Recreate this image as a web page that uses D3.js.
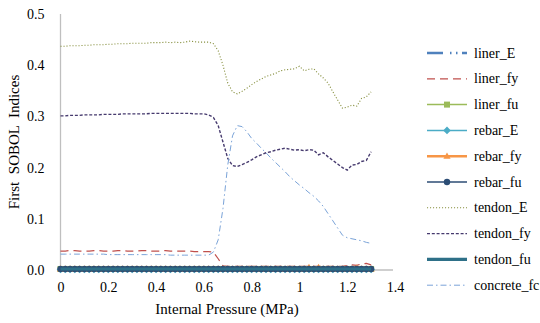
<!DOCTYPE html>
<html><head><meta charset="utf-8">
<script src="https://cdn.jsdelivr.net/npm/d3@7"></script>
<style>body{margin:0;background:#fff}svg{display:block}text{font-family:"Liberation Serif","Times New Roman",serif;fill:#000}</style>
</head><body><svg id="c" width="540" height="323"></svg>
<script>
const pressure = [0,0.02,0.04,0.06,0.08,0.10,0.12,0.14,0.16,0.18,0.20,0.22,0.24,0.26,0.28,0.30,0.32,0.34,0.36,0.38,0.40,0.42,0.44,0.46,0.48,0.50,0.52,0.54,0.56,0.58,0.60,0.62,0.64,0.66,0.68,0.70,0.72,0.74,0.76,0.78,0.80,0.82,0.84,0.86,0.88,0.90,0.92,0.94,0.96,0.98,1.00,1.02,1.04,1.06,1.08,1.10,1.12,1.14,1.16,1.18,1.20,1.22,1.24,1.26,1.28,1.30];
const seriesNames = ["liner_E","liner_fy","liner_fu","rebar_E","rebar_fy","rebar_fu","tendon_E","tendon_fy","tendon_fu","concrete_fc"];
const liner_E = [0.001,0.001,0.001,0.001,0.001,0.001,0.001,0.001,0.001,0.001,0.001,0.001,0.001,0.001,0.001,0.001,0.001,0.001,0.001,0.001,0.001,0.001,0.001,0.001,0.001,0.001,0.001,0.001,0.001,0.001,0.001,0.001,0.001,0.001,0.001,0.001,0.001,0.001,0.001,0.001,0.001,0.001,0.001,0.001,0.001,0.001,0.001,0.001,0.001,0.001,0.001,0.001,0.001,0.001,0.001,0.001,0.001,0.001,0.001,0.001,0.001,0.001,0.001,0.001,0.001,0.001];
const liner_fy = [0.037,0.037,0.038,0.038,0.037,0.037,0.037,0.038,0.038,0.037,0.037,0.037,0.038,0.038,0.037,0.037,0.037,0.038,0.038,0.037,0.037,0.037,0.038,0.037,0.037,0.037,0.037,0.037,0.036,0.036,0.036,0.036,0.035,0.022,0.008,0.007,0.007,0.007,0.007,0.007,0.007,0.007,0.007,0.007,0.007,0.007,0.007,0.007,0.007,0.007,0.007,0.007,0.007,0.007,0.007,0.007,0.007,0.007,0.007,0.007,0.009,0.010,0.009,0.012,0.013,0.010];
const liner_fu = [0.002,0.002,0.002,0.002,0.002,0.002,0.002,0.002,0.002,0.002,0.002,0.002,0.002,0.002,0.002,0.002,0.002,0.002,0.002,0.002,0.002,0.002,0.002,0.002,0.002,0.002,0.002,0.002,0.002,0.002,0.002,0.002,0.002,0.002,0.002,0.002,0.002,0.002,0.002,0.002,0.002,0.002,0.002,0.002,0.002,0.002,0.002,0.002,0.002,0.002,0.002,0.002,0.002,0.002,0.002,0.002,0.002,0.002,0.002,0.002,0.002,0.002,0.002,0.002,0.002,0.002];
const rebar_E = [0.001,0.001,0.001,0.001,0.001,0.001,0.001,0.001,0.001,0.001,0.001,0.001,0.001,0.001,0.001,0.001,0.001,0.001,0.001,0.001,0.001,0.001,0.001,0.001,0.001,0.001,0.001,0.001,0.001,0.001,0.001,0.001,0.001,0.001,0.001,0.001,0.001,0.001,0.001,0.001,0.001,0.001,0.001,0.001,0.001,0.001,0.001,0.001,0.001,0.001,0.001,0.001,0.001,0.001,0.001,0.001,0.001,0.001,0.001,0.001,0.001,0.001,0.001,0.001,0.001,0.001];
const rebar_fy = [0.002,0.002,0.002,0.002,0.002,0.002,0.002,0.002,0.002,0.002,0.002,0.002,0.002,0.002,0.002,0.002,0.002,0.002,0.002,0.002,0.002,0.002,0.002,0.002,0.002,0.002,0.002,0.002,0.002,0.002,0.002,0.002,0.002,0.002,0.002,0.002,0.002,0.002,0.002,0.002,0.002,0.002,0.002,0.002,0.002,0.002,0.002,0.002,0.002,0.002,0.002,0.002,0.005,0.002,0.005,0.002,0.002,0.002,0.002,0.002,0.002,0.002,0.004,0.002,0.002,0.002];
const rebar_fu = [0.002,0.002,0.002,0.002,0.002,0.002,0.002,0.002,0.002,0.002,0.002,0.002,0.002,0.002,0.002,0.002,0.002,0.002,0.002,0.002,0.002,0.002,0.002,0.002,0.002,0.002,0.002,0.002,0.002,0.002,0.002,0.002,0.002,0.002,0.002,0.002,0.002,0.002,0.002,0.002,0.002,0.002,0.002,0.002,0.002,0.002,0.002,0.002,0.002,0.002,0.002,0.002,0.002,0.002,0.002,0.002,0.002,0.002,0.002,0.002,0.002,0.002,0.002,0.002,0.002,0.002];
const tendon_E = [0.437,0.437,0.438,0.438,0.438,0.439,0.439,0.440,0.440,0.440,0.441,0.441,0.442,0.442,0.442,0.443,0.443,0.443,0.443,0.444,0.444,0.444,0.445,0.444,0.445,0.444,0.445,0.447,0.446,0.445,0.445,0.445,0.442,0.428,0.400,0.365,0.348,0.344,0.349,0.355,0.362,0.368,0.373,0.378,0.381,0.384,0.389,0.391,0.392,0.393,0.398,0.389,0.392,0.393,0.383,0.375,0.365,0.348,0.332,0.316,0.318,0.322,0.320,0.335,0.338,0.348];
const tendon_fy = [0.301,0.301,0.302,0.302,0.302,0.303,0.303,0.303,0.303,0.304,0.304,0.304,0.304,0.305,0.305,0.305,0.305,0.305,0.305,0.306,0.306,0.306,0.306,0.306,0.306,0.306,0.306,0.306,0.305,0.305,0.305,0.303,0.298,0.282,0.250,0.218,0.204,0.202,0.206,0.210,0.215,0.221,0.225,0.229,0.231,0.234,0.236,0.238,0.236,0.234,0.235,0.233,0.235,0.234,0.225,0.229,0.221,0.214,0.207,0.200,0.195,0.205,0.206,0.212,0.214,0.231];
const tendon_fu = [0.002,0.002,0.002,0.002,0.002,0.002,0.002,0.002,0.002,0.002,0.002,0.002,0.002,0.002,0.002,0.002,0.002,0.002,0.002,0.002,0.002,0.002,0.002,0.002,0.002,0.002,0.002,0.002,0.002,0.002,0.002,0.002,0.002,0.002,0.002,0.002,0.002,0.002,0.002,0.002,0.002,0.002,0.002,0.002,0.002,0.002,0.002,0.002,0.002,0.002,0.002,0.002,0.002,0.002,0.002,0.002,0.002,0.002,0.002,0.002,0.002,0.002,0.002,0.002,0.002,0.002];
const concrete_fc = [0.031,0.031,0.031,0.031,0.031,0.031,0.031,0.031,0.031,0.031,0.030,0.030,0.030,0.030,0.030,0.030,0.030,0.030,0.030,0.030,0.030,0.030,0.030,0.029,0.029,0.029,0.029,0.029,0.029,0.029,0.029,0.029,0.035,0.059,0.120,0.205,0.262,0.282,0.280,0.270,0.257,0.248,0.238,0.229,0.219,0.210,0.201,0.192,0.182,0.174,0.166,0.159,0.151,0.144,0.135,0.124,0.110,0.096,0.082,0.068,0.063,0.061,0.059,0.057,0.054,0.052];
const xTicks = [0,0.2,0.4,0.6,0.8,1,1.2,1.4];
const yTicks = [0,0.1,0.2,0.3,0.4,0.5];
const xTitle = "Internal Pressure (MPa)";
const yTitle = "First  SOBOL  Indices";

const values = {liner_E,liner_fy,liner_fu,rebar_E,rebar_fy,rebar_fu,tendon_E,tendon_fy,tendon_fu,concrete_fc};
const styles = {
  liner_E:{c:"#4F81BD",w:2.5,d:"16,7,1.5,4.5,1.5,4.5"},
  liner_fy:{c:"#C0504D",w:1.2,d:"8,5"},
  liner_fu:{c:"#9BBB59",w:1.5,d:null,m:"square"},
  rebar_E:{c:"#4BACC6",w:1.5,d:null,m:"diamond"},
  rebar_fy:{c:"#F79646",w:2.5,d:null,m:"triangle"},
  rebar_fu:{c:"#2C4D75",w:1.5,d:null,m:"circle"},
  tendon_E:{c:"#868F3E",w:1.1,d:"1.1,1.9"},
  tendon_fy:{c:"#463A6E",w:1.4,d:"3,1.8"},
  tendon_fu:{c:"#2E7088",w:3.2,d:null},
  concrete_fc:{c:"#7AA3D8",w:1,d:"6,3,1.5,3"}
};

const svg = d3.select("#c");
const x = d3.scaleLinear().domain([0,1.4]).range([60.5,395]);
const y = d3.scaleLinear().domain([0,0.5]).range([270,14]);

svg.append("line").attr("x1",x(0)).attr("x2",x(0)).attr("y1",y(0.5)).attr("y2",y(0)).attr("stroke","#BFBFBF").attr("stroke-width",1.3);
svg.append("line").attr("x1",x(0)).attr("x2",x(1.4)-2).attr("y1",y(0)).attr("y2",y(0)).attr("stroke","#BFBFBF").attr("stroke-width",1.3);

const ya = svg.append("g").attr("transform",`translate(${x(0)},0)`)
  .call(d3.axisLeft(y).tickValues(yTicks).tickSize(0).tickPadding(16).tickFormat(d3.format(".1f")));
const xa = svg.append("g").attr("transform",`translate(0,${y(0)})`)
  .call(d3.axisBottom(x).tickValues(xTicks).tickSize(0).tickPadding(12).tickFormat(d3.format("~g")));
[ya,xa].forEach(g=>{g.select(".domain").remove();g.attr("font-family",null);g.selectAll("text").style("font-family","'Liberation Serif',serif").style("font-size","14px").attr("fill","#000");});

svg.append("text").attr("x",227).attr("y",314).attr("text-anchor","middle").style("font-size","15px").text(xTitle);
svg.append("text").attr("transform","translate(19,142) rotate(-90)").attr("text-anchor","middle").style("font-size","15px").style("white-space","pre").text(yTitle);

function marker(g, type, cx, cy, col){
  if(type==="square") g.append("rect").attr("x",cx-3).attr("y",cy-3).attr("width",6).attr("height",6).attr("fill",col);
  else if(type==="diamond") g.append("path").attr("d",`M${cx},${cy-3.8}L${cx+3.8},${cy}L${cx},${cy+3.8}L${cx-3.8},${cy}Z`).attr("fill",col);
  else if(type==="triangle") g.append("path").attr("d",`M${cx},${cy-3.8}L${cx+3.6},${cy+2.6}L${cx-3.6},${cy+2.6}Z`).attr("fill",col);
  else if(type==="circle") g.append("circle").attr("cx",cx).attr("cy",cy).attr("r",3.2).attr("fill",col);
}

const line = d3.line().x(d=>x(d[0])).y(d=>y(d[1]));
const plot = svg.append("g");
seriesNames.forEach(n=>{
  const s = styles[n];
  const pts = pressure.map((p,i)=>[p,values[n][i]]);
  const g = plot.append("g");
  g.append("path").attr("d",line(pts)).attr("fill","none").attr("stroke",s.c).attr("stroke-width",s.w)
    .attr("stroke-dasharray",s.d);
  if(s.m) pts.forEach(p=>marker(g,s.m,x(p[0]),y(p[1]),s.c));
});

const lg = svg.append("g");
seriesNames.forEach((n,i)=>{
  const s = styles[n];
  const yy = 53 + i*25.8;
  lg.append("line").attr("x1",427).attr("x2",467).attr("y1",yy).attr("y2",yy)
    .attr("stroke",s.c).attr("stroke-width",s.w).attr("stroke-dasharray",s.d);
  if(s.m) marker(lg,s.m,447,yy,s.c);
  lg.append("text").attr("x",474).attr("y",yy+4.5).style("font-size","14px").text(n);
});
</script></body></html>
